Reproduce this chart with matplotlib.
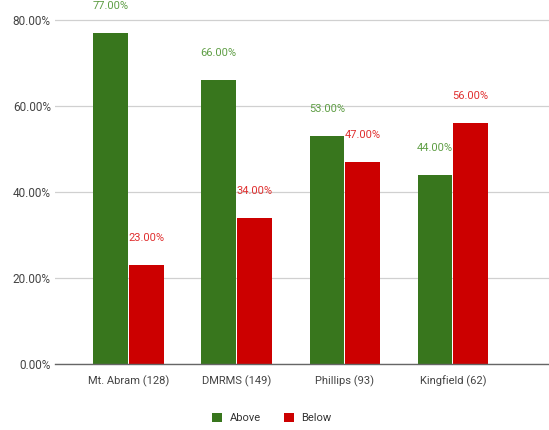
import matplotlib.pyplot as plt
import numpy as np

plt.rcParams['font.family'] = ['Roboto', 'DejaVu Sans']

schools = ['Mt. Abram (128)', 'DMRMS (149)', 'Phillips (93)', 'Kingfield (62)']
above = [77, 66, 53, 44]
below = [23, 34, 47, 56]

green = '#38761d'
red = '#cc0000'

fig = plt.figure(figsize=(5.49, 4.30), dpi=100)
# axes box in pixels: left 55, right 549, bottom y=364 (from top), top y=0
ax = fig.add_axes([55 / 549, (430 - 364) / 430, (549 - 55) / 549, 364 / 430])

x = np.arange(len(schools))
w = 0.32
b1 = ax.bar(x - w / 2 - 0.005, above, w, color=green, label='Above')
b2 = ax.bar(x + w / 2 + 0.005, below, w, color=red, label='Below')

for bars, vals, col in [(b1, above, '#5f9e45'), (b2, below, '#e03030')]:
    for r, v in zip(bars, vals):
        ax.annotate(f'{v:.2f}%', (r.get_x() + r.get_width() / 2, v),
                    xytext=(0, 27), textcoords='offset pixels',
                    ha='center', va='center', fontsize=8, color=col,
                    annotation_clip=False)

ax.set_xlim(-0.68, 3.89)
ax.set_ylim(0, 364 / 4.3)
ax.set_yticks([0, 20, 40, 60, 80])
ax.set_yticklabels([f'{t:.2f}%' for t in [0, 20, 40, 60, 80]])
ax.set_xticks(x)
ax.set_xticklabels(schools)
ax.tick_params(axis='both', length=0, labelsize=8, colors='#444444')
ax.tick_params(axis='y', labelsize=8.5, pad=3)
ax.tick_params(axis='x', pad=8)
ax.yaxis.grid(True, color='#d0d0d0', linewidth=0.9)
ax.set_axisbelow(True)
for s in ['top', 'right', 'left']:
    ax.spines[s].set_visible(False)
ax.spines['bottom'].set_color('#666666')
ax.spines['bottom'].set_linewidth(1.0)

fig.legend(handles=[b1, b2], labels=['Above', 'Below'], loc='center',
           bbox_to_anchor=(272 / 549, 1 - 418 / 430), ncol=2, frameon=False,
           fontsize=8, handlelength=0.9, handleheight=0.9, columnspacing=2.0,
           handletextpad=0.7, labelcolor='#333333')

plt.savefig('out.png', dpi=100)
